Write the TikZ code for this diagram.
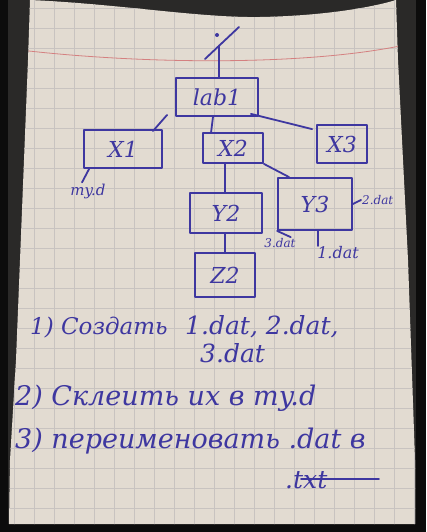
\documentclass[tikz,border=0pt]{standalone}
\usepackage{fontspec}
\setmainfont{DejaVu Serif}
\usepackage{tikz}
\usetikzlibrary{positioning,calc}
\definecolor{InkBlue}{RGB}{62,55,160}
\definecolor{PaperTone}{RGB}{226,219,209}
\definecolor{GridTone}{RGB}{200,195,192}
\definecolor{MarginRed}{RGB}{212,128,128}
\definecolor{DeskBlack}{RGB}{12,12,12}
\definecolor{KeyDark}{RGB}{42,41,40}
\tikzset{
    ink/.style={draw=InkBlue, line width=1.8pt, line cap=round, line join=round},
    dirbox/.style={rectangle, ink, text=InkBlue, inner sep=0pt, font=\itshape\fontsize{22}{24}\selectfont},
    filetag/.style={text=InkBlue, inner sep=1pt, font=\itshape\fontsize{12}{14}\selectfont},
    notetext/.style={text=InkBlue, inner sep=0pt, anchor=base west, font=\itshape\fontsize{27}{30}\selectfont}
}

\begin{document}
\begin{tikzpicture}[x=1pt, y=-1pt]
    \useasboundingbox (0,0) rectangle (426,532);

    % --- NỀN: bàn phím + tờ giấy ---
    \fill[DeskBlack] (0,0) rectangle (426,532);
    \fill[KeyDark] (8,0) rectangle (416,524);
    \path[fill=PaperTone] (30,0) .. controls (120,4) and (200,18) .. (260,17)
        .. controls (320,16) and (370,8) .. (396,0)
        -- (398,60) -- (408,260) -- (415,460) -- (415,524)
        -- (9,524) -- (10,460) -- (16,360) -- (28,60) -- cycle;
    \begin{scope}
        \clip (30,0) .. controls (120,4) and (200,18) .. (260,17)
            .. controls (320,16) and (370,8) .. (396,0)
            -- (398,60) -- (408,260) -- (415,460) -- (415,524)
            -- (9,524) -- (10,460) -- (16,360) -- (28,60) -- cycle;
        \foreach \gx in {14,34,...,414}
            \draw[GridTone, line width=0.6pt] (\gx,0) -- (\gx,532);
        \foreach \gy in {8,28,...,528}
            \draw[GridTone, line width=0.6pt] (0,\gy) -- (426,\gy);
        % lề đỏ
        \draw[MarginRed, line width=0.8pt] (20,50) .. controls (140,64) and (300,66) .. (400,46);
    \end{scope}

    % --- GỐC "/" ---
    \coordinate (slashA) at (205,59);
    \coordinate (slashB) at (239,27);
    \draw[ink] (slashA) -- (slashB);
    \fill[InkBlue] (217,35) circle (2);
    \coordinate (rootMid) at ($(slashA)!0.42!(slashB)$);

    % --- CÁC THƯ MỤC ---
    \node[dirbox, minimum width=82, minimum height=38] (lab1) at (217,97) {lab1};
    \node[dirbox, minimum width=78, minimum height=38] (X1) at (123,149) {X1};
    \node[dirbox, minimum width=60, minimum height=30] (X2) at (233,148) {X2};
    \node[dirbox, minimum width=50, minimum height=38] (X3) at (342,144) {X3};
    \node[dirbox, minimum width=72, minimum height=40] (Y2) at (226,213) {Y2};
    \node[dirbox, minimum width=74, minimum height=52] (Y3) at (315,204) {Y3};
    \node[dirbox, minimum width=60, minimum height=44] (Z2) at (225,275) {Z2};

    % --- FILE ---
    \node[filetag, anchor=west] (dat2) at (361,200) {2.dat};
    \node[filetag] (dat3) at (280,243) {3.dat};
    \node[filetag, font=\itshape\fontsize{16}{18}\selectfont] (dat1) at (338,253) {1.dat};
    \node[filetag, font=\itshape\fontsize{15}{17}\selectfont] (myd) at (88,191) {my.d};

    % --- ĐƯỜNG NỐI ---
    \draw[ink] (rootMid) -- (rootMid |- lab1.north);
    \draw[ink] ($(X1.north east)+(-10,2)$) -- ($(lab1.south west)+(-8,-2)$);
    \draw[ink] ($(X2.north west)+(9,0)$) -- ($(lab1.south)+(-4,0)$);
    \draw[ink] ($(lab1.south east)+(-8,-3)$) -- ($(X3.north west)+(-4,5)$);
    \draw[ink] ($(X2.south)+(-8,0)$) -- ($(Y2.north)+(-1,0)$);
    \draw[ink] (X2.south east) -- ($(Y3.north west)+(12,0)$);
    \draw[ink] (Z2.north) -- (Z2.north |- Y2.south);
    \draw[ink] (Y3.east) -- (dat2.west);
    \coordinate (tick1) at (318,246);
    \draw[ink] (tick1 |- Y3.south) -- (tick1);
    \draw[ink] (Y3.south west) -- ($(dat3.north east)+(-6,0)$);
    \draw[ink] ($(X1.south west)+(6,0)$) -- ($(myd.north)+(-6,0)$);

    % --- GHI CHÚ ---
    \node[notetext, font=\itshape\fontsize{23}{26}\selectfont] (step1) at (30,334) {1) Создать};
    \node[notetext, font=\itshape\fontsize{25}{28}\selectfont] (step1files) at (185,334) {1.dat, 2.dat,};
    \node[notetext, font=\itshape\fontsize{25}{28}\selectfont] (step1last) at (200,362) {3.dat};
    \node[notetext] (step2) at (15,405) {2) Склеить их в my.d};
    \node[notetext] (step3) at (15,448) {3) переименовать .dat в};
    \node[notetext, font=\itshape\fontsize{25}{28}\selectfont] (txt) at (285,488) {.txt};
    \draw[ink] ($(txt.base west)+(16,-9)$) -- ++(78,0);

\end{tikzpicture}
\end{document}
